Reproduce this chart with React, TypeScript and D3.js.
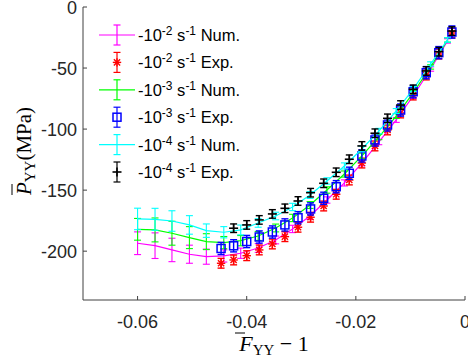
import React from "react";
import * as d3 from "d3";

// ---- data ----
const numStrain = [-0.06, -0.0568, -0.0537, -0.0505, -0.0474, -0.0442, -0.0411, -0.0379, -0.0347, -0.0316, -0.0284, -0.0253, -0.0221, -0.0189, -0.0158, -0.0126, -0.0095, -0.0063, -0.0032];
const numMagenta = [-193.5, -195.5, -199.0, -202.5, -204.5, -203.9, -201.7, -197.4, -190.8, -181.8, -171.2, -158.1, -144.1, -127.8, -110.6, -92.5, -72.9, -50.8, -27.8];
const numMagentaErr = [9.3, 10.5, 9.6, 7.4, 6.2, 5.0, 4.2, 3.6, 3.2, 3.0, 2.8, 2.6, 2.5, 2.3, 2.2, 2.0, 2.0, 1.8, 1.8];
const numGreen = [-182.1, -182.6, -185.3, -188.9, -192.2, -193.0, -191.4, -187.6, -181.0, -172.8, -162.2, -149.9, -136.8, -122.0, -106.5, -89.3, -70.4, -49.1, -27.0];
const numGreenErr = [8.9, 9.8, 9.8, 9.0, 6.5, 5.0, 4.2, 3.6, 3.2, 3.0, 2.8, 2.6, 2.5, 2.3, 2.2, 2.0, 2.0, 1.8, 1.8];
const numCyan = [-173.6, -173.9, -175.3, -178.5, -183.2, -184.5, -182.6, -176.9, -171.2, -163.8, -154.0, -142.5, -130.2, -116.3, -101.6, -85.2, -67.2, -46.7, -27.0];
const numCyanErr = [8.8, 9.0, 8.4, 7.6, 5.5, 4.6, 4.0, 3.5, 3.1, 3.0, 2.8, 2.6, 2.5, 2.3, 2.2, 2.0, 2.0, 1.8, 1.8];

const expStrain = [-0.0447, -0.0424, -0.04, -0.0377, -0.0353, -0.033, -0.0306, -0.0283, -0.0259, -0.0236, -0.0212, -0.0189, -0.0165, -0.0142, -0.0118, -0.0095, -0.0071, -0.0048, -0.0024];
const expRed = [-209.9, -207.2, -203.7, -199.0, -194.1, -188.1, -180.4, -172.2, -163.0, -153.4, -141.7, -127.8, -113.8, -100.7, -86.8, -72.1, -55.7, -38.5, -21.3];
const expRedErr = [4, 4, 4, 4, 4, 4, 4, 4, 4, 4, 4, 4, 4, 4, 4, 4, 4, 4, 4];
const expBlue = [-197.8, -195.6, -192.1, -188.4, -184.3, -178.5, -172.6, -165.4, -156.7, -147.2, -136.2, -122.0, -108.9, -96.6, -84.4, -69.4, -53.8, -37.4, -20.5];
const expBlueErr = [5, 5, 5, 5, 5, 5, 5, 5, 5, 5, 5, 5, 5, 5, 5, 5, 5, 5, 5];
const blackStrain = [-0.0424, -0.04, -0.0377, -0.0353, -0.033, -0.0306, -0.0283, -0.0259, -0.0236, -0.0212, -0.0189, -0.0165, -0.0142, -0.0118, -0.0095, -0.0071, -0.0048, -0.0024];
const expBlack = [-181.2, -178.5, -174.4, -169.5, -164.9, -158.9, -152.1, -144.4, -135.4, -124.7, -113.8, -103.4, -91.2, -80.3, -67.4, -52.4, -36.6, -19.7];
const expBlackErr = [3.5, 3.5, 3.5, 3.5, 3.5, 3.5, 3.5, 3.5, 3.5, 3.5, 3.5, 3.5, 3.5, 3.5, 3.5, 3.5, 3.5, 3.5];

const xTicks = [-0.06, -0.04, -0.02, 0];
const xTickLabels = ["-0.06", "-0.04", "-0.02", "0"];
const yTicks = [0, -50, -100, -150, -200];
const yTickLabels = ["0", "-50", "-100", "-150", "-200"];

const legendExp = ["-2", "-2", "-3", "-3", "-4", "-4"];
const legendKind = ["Num.", "Exp.", "Num.", "Exp.", "Num.", "Exp."];

// ---- layout ----
const W = 468, H = 363;
const X0 = 83, X1 = 465, Y0 = 7, Y1 = 300;

type Series = { kind: "num" | "exp"; color: string; marker: string; xs: number[]; ys: number[]; es: number[] };

const series: Series[] = [
  { kind: "num", color: "#ff00ff", marker: "none", xs: numStrain, ys: numMagenta, es: numMagentaErr },
  { kind: "exp", color: "#ff0000", marker: "star", xs: expStrain, ys: expRed, es: expRedErr },
  { kind: "num", color: "#00ff00", marker: "none", xs: numStrain, ys: numGreen, es: numGreenErr },
  { kind: "exp", color: "#0000ff", marker: "square", xs: expStrain, ys: expBlue, es: expBlueErr },
  { kind: "num", color: "#00ffff", marker: "none", xs: numStrain, ys: numCyan, es: numCyanErr },
  { kind: "exp", color: "#000000", marker: "plus", xs: blackStrain, ys: expBlack, es: expBlackErr },
];

function Marker({ type, cx, cy, color }: { type: string; cx: number; cy: number; color: string }) {
  if (type === "square") {
    return <rect x={cx - 4} y={cy - 4} width={8} height={8} fill="none" stroke={color} strokeWidth={1.5} />;
  }
  if (type === "star") {
    const r = 4.2, d = 3.1;
    return (
      <g stroke={color} strokeWidth={1.4}>
        <line x1={cx - r} y1={cy} x2={cx + r} y2={cy} />
        <line x1={cx} y1={cy - r} x2={cx} y2={cy + r} />
        <line x1={cx - d} y1={cy - d} x2={cx + d} y2={cy + d} />
        <line x1={cx - d} y1={cy + d} x2={cx + d} y2={cy - d} />
      </g>
    );
  }
  if (type === "plus") {
    const r = 4.5;
    return (
      <g stroke={color} strokeWidth={1.6}>
        <line x1={cx - r} y1={cy} x2={cx + r} y2={cy} />
        <line x1={cx} y1={cy - r} x2={cx} y2={cy + r} />
      </g>
    );
  }
  return null;
}

function ErrBar({ cx, yTop, yBot, color, cap, sw }: { cx: number; yTop: number; yBot: number; color: string; cap: number; sw: number }) {
  return (
    <g stroke={color} strokeWidth={sw}>
      <line x1={cx} y1={yTop} x2={cx} y2={yBot} />
      <line x1={cx - cap} y1={yTop} x2={cx + cap} y2={yTop} />
      <line x1={cx - cap} y1={yBot} x2={cx + cap} y2={yBot} />
    </g>
  );
}

export default function App() {
  const x = d3.scaleLinear().domain([-0.07, 0]).range([X0, X1]);
  const y = d3.scaleLinear().domain([-240, 0]).range([Y1, Y0]);

  const font = "'Liberation Sans', Arial, Helvetica, sans-serif";
  const serif = "'Liberation Serif', 'Times New Roman', serif";

  return (
    <svg width={W} height={H} style={{ position: "absolute", left: 0, top: 0, background: "#fff" }}>
      <rect width={W} height={H} fill="#fff" />
      <defs>
        <clipPath id="plot">
          <rect x={X0} y={0} width={W - X0} height={Y1} />
        </clipPath>
      </defs>

      <g clipPath="url(#plot)">
        {series.map((s, si) => {
          const pts = s.xs.map((xv, i) => [x(xv), y(s.ys[i])] as [number, number]);
          return (
            <g key={si}>
              {s.kind === "num" && (
                <path d={d3.line()(pts) || ""} fill="none" stroke={s.color} strokeWidth={1.2} />
              )}
              {s.xs.map((xv, i) => (
                <ErrBar key={"e" + i} cx={x(xv)} yTop={y(s.ys[i] + s.es[i])} yBot={y(s.ys[i] - s.es[i])} color={s.color}
                  cap={s.kind === "num" ? 3.5 : 3.5} sw={s.kind === "num" ? 1.1 : 1.4} />
              ))}
              {s.xs.map((xv, i) => (
                <Marker key={"m" + i} type={s.marker} cx={x(xv)} cy={y(s.ys[i])} color={s.color} />
              ))}
            </g>
          );
        })}
      </g>

      {/* axes */}
      <g stroke="#404040" strokeWidth={1}>
        <line x1={X0} y1={Y0} x2={X0} y2={Y1} />
        <line x1={X0} y1={Y1} x2={X1} y2={Y1} />
        {xTicks.map((t, i) => (
          <line key={"xt" + i} x1={x(t)} y1={Y1} x2={x(t)} y2={Y1 - 4} />
        ))}
        {yTicks.map((t, i) => (
          <line key={"yt" + i} x1={X0} y1={y(t)} x2={X0 + 4} y2={y(t)} />
        ))}
      </g>
      <g fontFamily={font} fontSize={18} fill="#262626">
        {xTicks.map((t, i) => (
          <text key={"xl" + i} x={x(t)} y={Y1 + 28} textAnchor="middle">{xTickLabels[i]}</text>
        ))}
        {yTicks.map((t, i) => (
          <text key={"yl" + i} x={X0 - 6} y={y(t) + 7} textAnchor="end">{yTickLabels[i]}</text>
        ))}
      </g>

      {/* axis labels */}
      <g fontFamily={serif} fill="#000">
        <text x={274} y={351} textAnchor="middle" fontSize={22}>
          <tspan fontStyle="italic">F</tspan>
          <tspan fontSize={15} dy={4}>YY</tspan>
          <tspan dy={-4}>{" \u2212 1"}</tspan>
        </text>
        <line x1={235} x2={245} y1={333} y2={333} stroke="#000" strokeWidth={1} />
        <g transform="translate(31,151) rotate(-90)">
          <text x={0} y={0} textAnchor="middle" fontSize={21}>
            <tspan fontStyle="italic">P</tspan>
            <tspan fontSize={15} dy={4}>YY</tspan>
            <tspan dy={-4}>(MPa)</tspan>
          </text>
        </g>
        <line x1={12} x2={12} y1={195} y2={184} stroke="#000" strokeWidth={1} />
      </g>

      {/* legend */}
      <g>
        {series.map((s, i) => {
          const cy = 35 + i * 27.4;
          const cx = 117;
          return (
            <g key={"lg" + i}>
              {s.kind === "num" && <line x1={99} x2={135} y1={cy} y2={cy} stroke={s.color} strokeWidth={1.2} />}
              <ErrBar cx={cx} yTop={cy - 10} yBot={cy + 10} color={s.color} cap={3.5} sw={1.2} />
              <Marker type={s.marker} cx={cx} cy={cy} color={s.color} />
              <text x={138} y={cy + 6} fontFamily={font} fontSize={16.5} fill="#000">
                <tspan>-10</tspan>
                <tspan fontSize={12} dy={-6}>{legendExp[i]}</tspan>
                <tspan dy={6}>{" s"}</tspan>
                <tspan fontSize={12} dy={-6}>-1</tspan>
                <tspan dy={6}>{" " + legendKind[i]}</tspan>
              </text>
            </g>
          );
        })}
      </g>
    </svg>
  );
}
